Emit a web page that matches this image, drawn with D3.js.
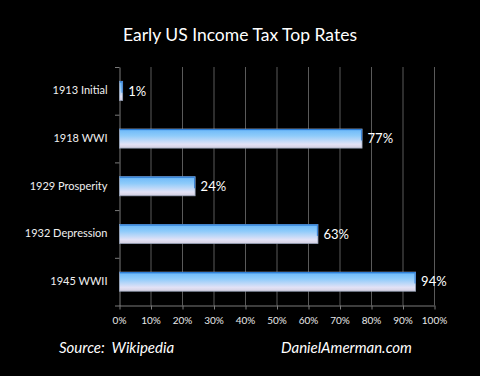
<!DOCTYPE html>
<html><head><meta charset="utf-8">
<script src="https://cdn.jsdelivr.net/npm/d3@7"></script>
<style>body{margin:0;background:#000;}svg{display:block;}</style>
</head><body>
<svg id="c" width="480" height="376"></svg>
<script>
const categories = ["1913 Initial","1918 WWI","1929 Prosperity","1932 Depression","1945 WWII"];
const values = [1, 77, 24, 63, 94];
const valueLabels = ["1%","77%","24%","63%","94%"];
const ticks = [0,10,20,30,40,50,60,70,80,90,100];

const svg = d3.select("#c");
const font = "Lato, 'Open Sans', sans-serif";
svg.append("rect").attr("width",480).attr("height",376).attr("fill","#000");

const x = d3.scaleLinear().domain([0,100]).range([119,434]);
const y = d3.scaleBand().domain(categories).range([67,305.5]).paddingInner(0.6).paddingOuter(0.3);
const yb = d3.scaleBand().domain(categories).range([67,305.5]);

const defs = svg.append("defs");
const g = defs.append("linearGradient").attr("id","bg").attr("x1",0).attr("y1",0).attr("x2",0).attr("y2",1);
g.append("stop").attr("offset","0%").attr("stop-color","#3d8fe4");
g.append("stop").attr("offset","10%").attr("stop-color","#74bdf9");
g.append("stop").attr("offset","35%").attr("stop-color","#8ecbfa");
g.append("stop").attr("offset","80%").attr("stop-color","#e2e2f6");
g.append("stop").attr("offset","100%").attr("stop-color","#d4cfe0");

// gridlines
svg.append("g").selectAll("line").data(ticks.slice(1)).join("line")
  .attr("x1",d=>x(d)+0.5).attr("x2",d=>x(d)+0.5).attr("y1",67).attr("y2",305.5)
  .attr("stroke","#5a5a5a").attr("stroke-width",1);

// x axis
const xa = svg.append("g").attr("transform","translate(0,305.5)")
  .call(d3.axisBottom(x).tickValues(ticks).tickFormat(d=>d+"%").tickSize(4).tickSizeOuter(0));
xa.select(".domain").attr("stroke","#7a7a7a");
xa.selectAll(".tick line").attr("stroke","#7a7a7a").attr("transform","translate(0.5,0)");
xa.selectAll("text").attr("fill","#e8e8e8").attr("font-family",font).attr("font-size",10).attr("dy","1.1em");

// y axis
const ya = svg.append("g").attr("transform","translate(119.5,0)")
  .call(d3.axisLeft(yb).tickSize(0).tickPadding(12));
ya.select(".domain").attr("stroke","#7a7a7a");
ya.selectAll("text").attr("fill","#f0f0f0").attr("font-family",font).attr("font-size",11);
svg.append("g").selectAll("line").data([67,...categories.map(c=>yb(c)+yb.bandwidth())]).join("line")
  .attr("x1",115).attr("x2",119.5).attr("y1",d=>d+0.5).attr("y2",d=>d+0.5).attr("stroke","#7a7a7a");

// bars
svg.append("g").selectAll("rect").data(values).join("rect")
  .attr("x",x(0)+0.5).attr("y",(d,i)=>y(categories[i]))
  .attr("width",d=>x(d)-x(0)).attr("height",y.bandwidth())
  .attr("fill","url(#bg)").attr("stroke","#9aa6bc").attr("stroke-width",0.8);
svg.append("g").selectAll("line").data(values).join("line")
  .attr("x1",x(0)+0.5).attr("x2",d=>x(d)+0.5)
  .attr("y1",(d,i)=>y(categories[i])+0.5).attr("y2",(d,i)=>y(categories[i])+0.5)
  .attr("stroke","#2f7fd6").attr("stroke-width",1.2);
svg.append("g").selectAll("line").data(values).join("line")
  .attr("x1",d=>x(d)).attr("x2",d=>x(d))
  .attr("y1",(d,i)=>y(categories[i])).attr("y2",(d,i)=>y(categories[i])+y.bandwidth()*0.6)
  .attr("stroke","#3f86d8").attr("stroke-width",1.2);

// value labels
svg.append("g").selectAll("text").data(values).join("text")
  .attr("x",d=>x(d)+6).attr("y",(d,i)=>y(categories[i])+y.bandwidth()/2)
  .attr("dy","0.36em").attr("fill","#fff").attr("font-family",font).attr("font-size",13)
  .text((d,i)=>valueLabels[i]);

// title
svg.append("text").attr("x",240).attr("y",41).attr("text-anchor","middle")
  .attr("fill","#fff").attr("font-family",font).attr("font-size",17.5).text("Early US Income Tax Top Rates");

// footer
svg.append("text").attr("x",59).attr("y",353).attr("fill","#fff").attr("font-family",font)
  .attr("font-style","italic").attr("font-size",15).attr("xml:space","preserve").text("Source:  Wikipedia");
svg.append("text").attr("x",281).attr("y",353).attr("fill","#fff").attr("font-family",font)
  .attr("font-style","italic").attr("font-size",15).text("DanielAmerman.com");
</script>
</body></html>
